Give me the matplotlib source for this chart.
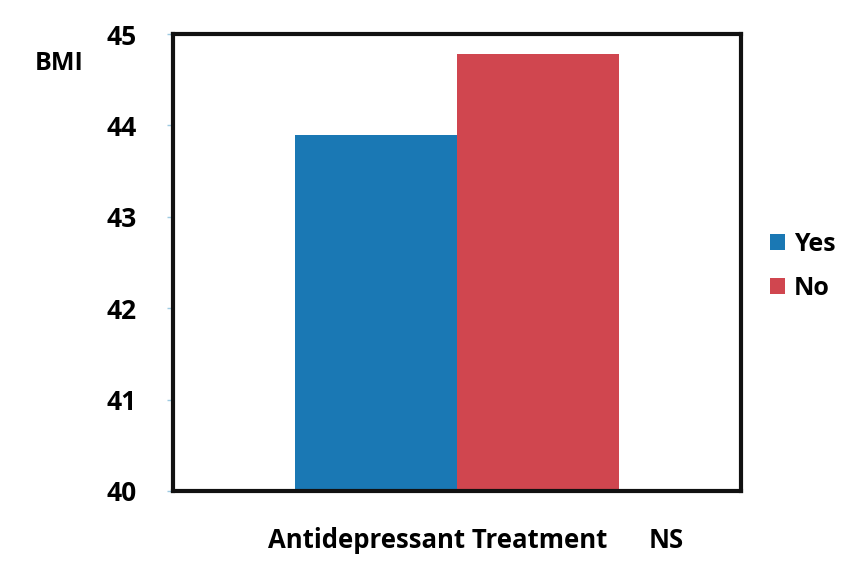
import matplotlib.pyplot as plt

plt.rcParams['font.family'] = ['Open Sans', 'DejaVu Sans']

groups = ['Yes', 'No']
bmi = [43.9, 44.78]
colors = ['#1a78b4', '#d0464f']
yticks = [40, 41, 42, 43, 44, 45]

fig = plt.figure(figsize=(8.58, 5.63), dpi=100)
ax = fig.add_axes([0.2016, 0.128, 0.662, 0.8115])

width = 0.285
offsets = [-width / 2, width / 2]
for g, v, c, off in zip(groups, bmi, colors, offsets):
    ax.bar(off, v - 40, width=width, bottom=40, color=c, label=g)

ax.set_xlim(-0.5, 0.5)
ax.set_ylim(40, 45)
ax.set_yticks(yticks)
ax.set_yticklabels([str(t) for t in yticks], fontsize=19, fontweight='bold')
ax.set_xticks([])
ax.tick_params(axis='y', length=4, width=1, color='#9ecae1', pad=22)
for s in ax.spines.values():
    s.set_linewidth(3)
    s.set_color('#111111')

fig.text(0.04, 0.875, 'BMI', fontsize=18, fontweight='bold')
fig.text(0.51, 0.027, 'Antidepressant Treatment', fontsize=18.5,
         fontweight='bold', ha='center')
fig.text(0.776, 0.027, 'NS', fontsize=18.5, fontweight='bold', ha='center')

ax.legend(loc='center left', bbox_to_anchor=(1.012, 0.492), frameon=False,
          prop={'weight': 'bold', 'size': 18},
          handlelength=0.6, handleheight=0.6, handletextpad=0.35,
          labelspacing=0.75)

fig.savefig('out.png', dpi=100)
